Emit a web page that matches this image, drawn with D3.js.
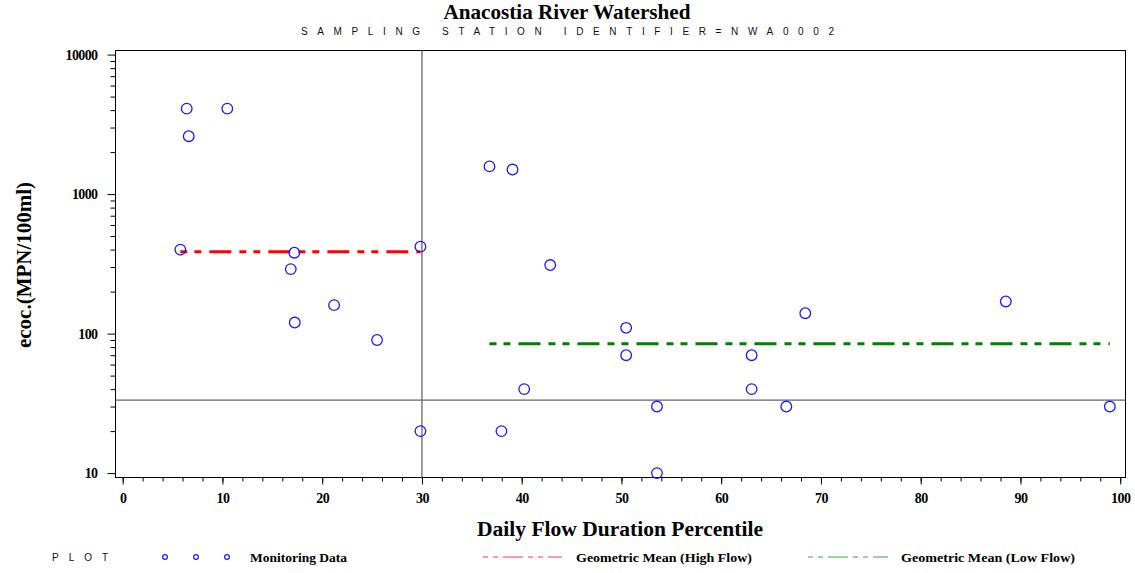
<!DOCTYPE html>
<html>
<head>
<meta charset="utf-8">
<script src="https://cdn.jsdelivr.net/npm/d3@7"></script>
<style>
  html, body { margin: 0; padding: 0; background: #fff; }
  svg { display: block; }
  .serif { font-family: "Liberation Serif", "DejaVu Serif", serif; font-weight: bold; fill: #000; }
  .thin { font-family: "Liberation Sans", "DejaVu Sans", sans-serif; font-weight: normal; fill: #111; }
</style>
</head>
<body>
<svg id="chart" width="1135" height="573"></svg>
<script>
// Sample results, split by flow regime (percentile of daily flow duration)
const highFlowPct = [6.42, 10.49, 6.62, 5.78, 17.21, 16.85, 29.85, 17.25, 21.19, 25.5, 29.85];
const highFlowVal = [4100, 4100, 2600, 400, 380, 290, 420, 120, 160, 90, 20];
const lowFlowPct  = [36.77, 39.08, 42.86, 68.43, 50.47, 50.47, 63.05, 40.25, 63.05, 53.56, 66.53, 37.97, 53.56, 88.53, 98.96];
const lowFlowVal  = [1580, 1500, 310, 140, 110, 70, 70, 40, 40, 30, 30, 20, 10, 170, 30];

// Reference lines
const flowBreak = 30;        // boundary between high and low flow
const criterion = 33.4;      // horizontal reference level

// Axis ticks
const xMajorTicks = [0, 10, 20, 30, 40, 50, 60, 70, 80, 90, 100];
const yMajorTicks = [10, 100, 1000, 10000];

const titleText = "Anacostia River Watershed";
const subtitleText = "SAMPLING STATION IDENTIFIER=NWA0002";
const xLabel = "Daily Flow Duration Percentile";
const yLabel = "ecoc.(MPN/100ml)";
const legendItems = ["Monitoring Data", "Geometric Mean (High Flow)", "Geometric Mean (Low Flow)"];

const svg = d3.select("#chart");

const frame = { left: 115.5, top: 50.5, right: 1125.5, bottom: 477.5 };

const x = d3.scaleLinear().domain([-0.72, 100.53]).range([frame.left, frame.right]);
const y = d3.scaleLog().domain([9.3, 10700]).range([frame.bottom, frame.top]);

const points = highFlowPct.map((p, i) => ({ p, v: highFlowVal[i] }))
  .concat(lowFlowPct.map((p, i) => ({ p, v: lowFlowVal[i] })));

const geoMean = vals => Math.pow(10, d3.mean(vals, v => Math.log10(v)));
const meanLines = [
  { x0: d3.min(highFlowPct), x1: d3.max(highFlowPct), v: geoMean(highFlowVal), color: "#ff0000" },
  { x0: d3.min(lowFlowPct),  x1: d3.max(lowFlowPct),  v: geoMean(lowFlowVal),  color: "#008000" }
];

// Titles
svg.append("text").attr("class", "serif")
  .attr("x", 567).attr("y", 19).attr("text-anchor", "middle")
  .attr("font-size", 21).attr("textLength", 247).attr("lengthAdjust", "spacingAndGlyphs")
  .text(titleText);
svg.append("text").attr("class", "thin")
  .attr("x", 301).attr("y", 35)
  .attr("font-size", 10).attr("textLength", 533).attr("lengthAdjust", "spacing")
  .text(subtitleText);

// Plot frame
svg.append("rect")
  .attr("x", frame.left).attr("y", frame.top)
  .attr("width", frame.right - frame.left).attr("height", frame.bottom - frame.top)
  .attr("fill", "none").attr("stroke", "#000").attr("stroke-width", 1);

// Minor y ticks (2..9 within each decade)
const yMinor = [];
for (let d = 10; d < 10000; d *= 10) for (let k = 2; k <= 9; k++) yMinor.push(d * k);

const yMinorAxis = d3.axisLeft(y).tickValues(yMinor).tickSize(5).tickFormat("");
const yAxis = d3.axisLeft(y).tickValues(yMajorTicks).tickSize(8).tickPadding(10)
  .tickFormat(d3.format("d"));

svg.append("g").attr("transform", `translate(${frame.left},0)`).call(yMinorAxis)
  .call(g => g.select(".domain").remove());
svg.append("g").attr("transform", `translate(${frame.left},0)`).call(yAxis)
  .call(g => g.select(".domain").remove())
  .call(g => g.selectAll("text").attr("class", "serif").attr("font-size", 14)
    .attr("letter-spacing", -0.6).style("font-family", null));

// x ticks: minor every 2, major every 10
const xMinorAxis = d3.axisBottom(x).tickValues(d3.range(0, 101, 2)).tickSize(4).tickFormat("");
const xAxis = d3.axisBottom(x).tickValues(xMajorTicks).tickSize(7).tickPadding(9)
  .tickFormat(d3.format("d"));
svg.append("g").attr("transform", `translate(0,${frame.bottom})`).call(xMinorAxis)
  .call(g => g.select(".domain").remove());
svg.append("g").attr("transform", `translate(0,${frame.bottom})`).call(xAxis)
  .call(g => g.select(".domain").remove())
  .call(g => g.selectAll("text").attr("class", "serif").attr("font-size", 14)
    .attr("letter-spacing", -0.6));

svg.selectAll(".tick line").attr("stroke", "#000");
svg.selectAll("g").attr("font-family", null);

// Reference lines
svg.append("line")
  .attr("x1", x(flowBreak)).attr("x2", x(flowBreak))
  .attr("y1", frame.top).attr("y2", frame.bottom)
  .attr("stroke", "#666").attr("stroke-width", 1.3);
svg.append("line")
  .attr("x1", frame.left).attr("x2", frame.right)
  .attr("y1", y(criterion)).attr("y2", y(criterion))
  .attr("stroke", "#666").attr("stroke-width", 1.3);

// Geometric mean lines
svg.selectAll("line.gm").data(meanLines).enter().append("line")
  .attr("class", "gm")
  .attr("x1", d => x(d.x0)).attr("x2", d => x(d.x1))
  .attr("y1", d => y(d.v)).attr("y2", d => y(d.v))
  .attr("stroke", d => d.color).attr("stroke-width", 3)
  .attr("stroke-dasharray", "7,7,7,8,22,8");

// Monitoring data
svg.selectAll("circle.pt").data(points).enter().append("circle")
  .attr("class", "pt")
  .attr("cx", d => x(d.p)).attr("cy", d => y(d.v)).attr("r", 5.3)
  .attr("fill", "none").attr("stroke", "#1a1aff").attr("stroke-width", 1.3);

// Axis labels
svg.append("text").attr("class", "serif")
  .attr("x", 620).attr("y", 536).attr("text-anchor", "middle")
  .attr("font-size", 20).attr("textLength", 286).attr("lengthAdjust", "spacingAndGlyphs")
  .text(xLabel);
svg.append("text").attr("class", "serif")
  .attr("transform", "translate(31,265) rotate(-90)").attr("text-anchor", "middle")
  .attr("font-size", 20).attr("textLength", 166).attr("lengthAdjust", "spacingAndGlyphs")
  .text(yLabel);

// Legend
const legY = 557;
svg.append("text").attr("class", "thin")
  .attr("x", 52).attr("y", legY + 4).attr("font-size", 10)
  .attr("textLength", 56).attr("lengthAdjust", "spacing").text("PLOT");

svg.selectAll("circle.leg").data([165, 196, 227]).enter().append("circle")
  .attr("class", "leg")
  .attr("cx", d => d).attr("cy", legY).attr("r", 2.4)
  .attr("fill", "none").attr("stroke", "#1a1aff").attr("stroke-width", 1.2);

const legLines = [
  { x1: 483, x2: 562, color: "#ff3b3b" },
  { x1: 808, x2: 888, color: "#3aa63a" }
];
svg.selectAll("line.leg").data(legLines).enter().append("line")
  .attr("class", "leg")
  .attr("x1", d => d.x1).attr("x2", d => d.x2)
  .attr("y1", legY).attr("y2", legY)
  .attr("stroke", d => d.color).attr("stroke-width", 1)
  .attr("stroke-dasharray", "5,5,5,5,20,5");

const legText = [
  { x: 250, w: 97 },
  { x: 576, w: 176 },
  { x: 901, w: 174 }
];
svg.selectAll("text.legt").data(legendItems).enter().append("text")
  .attr("class", "serif legt")
  .attr("x", (d, i) => legText[i].x).attr("y", legY + 5)
  .attr("font-size", 13)
  .attr("textLength", (d, i) => legText[i].w).attr("lengthAdjust", "spacingAndGlyphs")
  .text(d => d);
</script>
</body>
</html>
